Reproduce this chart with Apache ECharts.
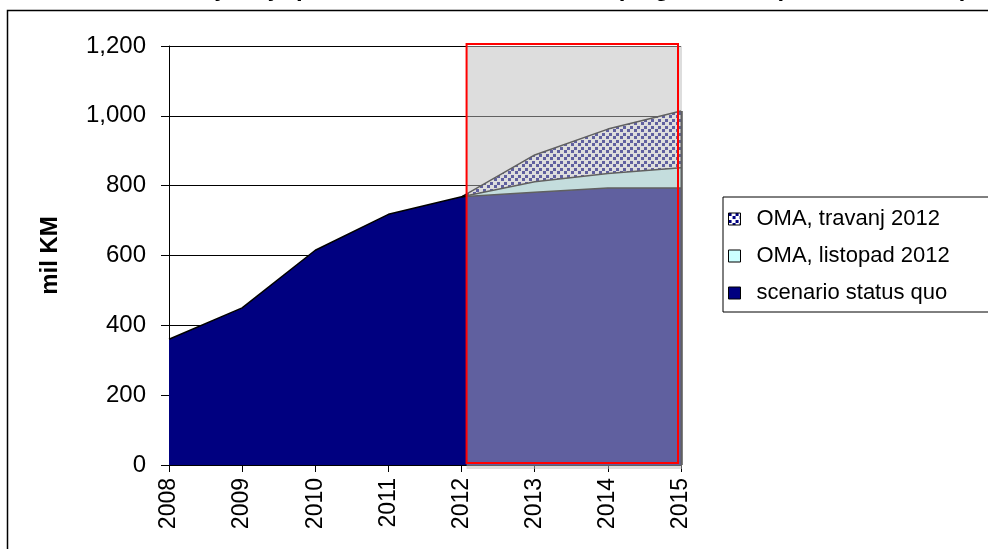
<!DOCTYPE html>
<html><head><meta charset="utf-8">
<script src="https://cdn.jsdelivr.net/npm/echarts@6/dist/echarts.min.js"></script>
<style>html,body{margin:0;padding:0;background:#fff}#c{width:988px;height:549px}</style>
</head><body><div id="c"></div>
<script>
const years = ['2008','2009','2010','2011','2012','2013','2014','2015'];
const statusQuo = [360, 450, 615, 718, 768, 781, 793, 793];
const listopadExtra = ['-', '-', '-', '-', 0, 30, 42, 58];
const travanjExtra = ['-', '-', '-', '-', 0, 77, 127, 163];
const yTicks = [0, 200, 400, 600, 800, 1000, 1200];
const titleText = 'Projekcija prihoda od akciza na duhan po godinama (u milionima KM)';

function makePattern() {
  const c = document.createElement('canvas');
  c.width = 7; c.height = 7;
  const g = c.getContext('2d');
  g.fillStyle = '#ffffff'; g.fillRect(0,0,7,7);
  g.fillStyle = '#000080';
  g.fillRect(0,0,3,3); g.fillRect(4,3,3,3);
  return c;
}
const pat = { image: makePattern(), repeat: 'repeat' };
const FONT = 'Liberation Sans, Arial, sans-serif';
const chart = echarts.init(document.getElementById('c'), null, {renderer:'canvas'});
chart.setOption({
  animation: false,
  backgroundColor: '#fff',
  grid: { left: 169, right: 307, top: 46, bottom: 84 },
  legend: {
    orient: 'vertical', left: 723, top: 197,
    padding: [10, 60, 7, 5], itemGap: 13, icon: 'rect',
    itemWidth: 12, itemHeight: 12,
    borderColor: '#000', borderWidth: 1,
    textStyle: { fontSize: 22, color: '#000', fontFamily: FONT, lineHeight: 24, padding: [0, 0, 0, 11] },
    data: [
      { name: 'OMA, travanj 2012', itemStyle: { color: pat, borderColor: '#000', borderWidth: 1 } },
      { name: 'OMA, listopad 2012', itemStyle: { color: '#CCFFFF', borderColor: '#000', borderWidth: 1 } },
      { name: 'scenario status quo', itemStyle: { color: '#000080', borderColor: '#000', borderWidth: 1 } }
    ]
  },
  xAxis: {
    type: 'category', data: years, boundaryGap: false,
    axisLine: { lineStyle: { color: '#000', width: 1 } },
    axisTick: { show: true, length: 7, lineStyle: { color: '#000' } },
    axisLabel: { rotate: 90, fontSize: 23, color: '#000', fontFamily: FONT, margin: 13 },
    splitLine: { show: false }
  },
  yAxis: {
    type: 'value', min: 0, max: 1200, interval: 200,
    name: 'mil KM', nameLocation: 'middle', nameRotate: 90, nameGap: 107,
    nameTextStyle: { fontSize: 24, fontWeight: 'bold', color: '#000', fontFamily: FONT },
    axisLine: { show: true, lineStyle: { color: '#000', width: 1 } },
    axisTick: { show: true, length: 8, lineStyle: { color: '#000' } },
    axisLabel: { fontSize: 24, color: '#000', fontFamily: FONT, margin: 23,
      formatter: v => yTicks.includes(v) ? v.toLocaleString('en-US') : '' },
    splitLine: { show: true, lineStyle: { color: '#000', width: 1 } }
  },
  series: [
    { name: 'scenario status quo', type: 'line', stack: 'a', data: statusQuo, symbol: 'none',
      lineStyle: { color: '#000', width: 1.5 }, itemStyle: { color: '#000080' },
      areaStyle: { color: '#000080', opacity: 1 } },
    { name: 'OMA, listopad 2012', type: 'line', stack: 'a', data: listopadExtra, symbol: 'none',
      lineStyle: { color: '#000', width: 1.5 }, itemStyle: { color: '#CCFFFF' },
      areaStyle: { color: '#CCFFFF', opacity: 1 } },
    { name: 'OMA, travanj 2012', type: 'line', stack: 'a', data: travanjExtra, symbol: 'none',
      lineStyle: { color: '#000', width: 1.5 }, itemStyle: { color: '#000080' },
      areaStyle: { color: pat, opacity: 1 } }
  ]
});

// overlays derived from axes
const x12 = chart.convertToPixel({xAxisIndex:0}, '2012');
const x15 = chart.convertToPixel({xAxisIndex:0}, '2015');
const y0 = chart.convertToPixel({yAxisIndex:0}, 0);
const yMax = chart.convertToPixel({yAxisIndex:0}, 1200);
const lastTotal = statusQuo[7] + listopadExtra[7] + travanjExtra[7];
const yTop15 = chart.convertToPixel({yAxisIndex:0}, lastTotal);
const boxL = x12 + 5;
chart.setOption({
  graphic: [
    { type: 'line', z: 50, shape: { x1: x15 + 0.5, y1: yTop15, x2: x15 + 0.5, y2: y0 },
      style: { stroke: '#000', lineWidth: 2 } },
    { type: 'rect', z: 60, shape: { x: boxL, y: yMax, width: x15 + 1 - boxL, height: y0 - yMax + 4 },
      style: { fill: 'rgba(188,188,188,0.51)', stroke: null } },
    { type: 'rect', z: 61, shape: { x: boxL, y: yMax - 2, width: x15 - 3 - boxL, height: y0 - yMax },
      style: { fill: null, stroke: '#ff0000', lineWidth: 2 } },
    { type: 'rect', z: 70, shape: { x: 7.5, y: 10.5, width: 1000, height: 600 },
      style: { fill: null, stroke: '#000', lineWidth: 1.5 } },
    { type: 'text', z: 70, x: 968, y: 1,
      style: { text: titleText, textAlign: 'right', textVerticalAlign: 'bottom',
        font: 'bold 24px Liberation Sans, Arial, sans-serif', fill: '#000' } }
  ]
});
</script>
</body></html>
